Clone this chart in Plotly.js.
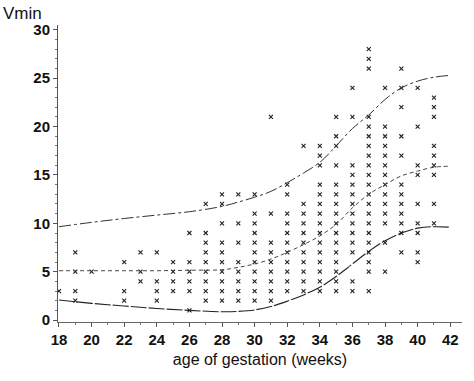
<!DOCTYPE html>
<html>
<head>
<meta charset="utf-8">
<script src="https://cdn.plot.ly/plotly-3.0.1.min.js"></script>
<style>html,body{margin:0;padding:0;background:#fff;}#chart{width:474px;height:381px;}</style>
</head>
<body>
<div id="chart"></div>
<script>
// Observed Vmin values per gestational week
var weeks = [18,19,20,22,23,24,25,26,27,28,29,30,31,32,33,34,35,36,37,38,39,40,41];
var vminByWeek = [
  [3],
  [2,3,5,7],
  [5],
  [2,3,6],
  [4,5,7],
  [2,3,4,7],
  [3,4,5,6],
  [1,3,4,5,6,9],
  [2,3,4,5,6,7,8,9,12],
  [2,3,4,5,6,7,8,10,12,13],
  [2,3,4,5,6,8,10,13],
  [2,3,4,5,6,7,8,9,10,11,13],
  [2,3,4,5,6,7,8,11,21],
  [3,4,5,6,7,8,9,10,11,13,14],
  [3,4,5,6,7,8,9,10,11,12,18],
  [3,4,5,6,7,8,9,10,11,12,13,14,16,17,18],
  [3,4,5,6,7,8,9,10,11,12,13,14,16,18,19,21],
  [3,4,7,8,9,10,11,12,13,14,15,16,21,24],
  [3,5,6,7,8,9,10,11,12,13,14,15,16,17,18,19,20,21,26,27,28],
  [5,8,10,11,12,13,14,15,16,17,18,19,20,24],
  [7,9,10,11,12,13,14,17,19,22,24,26],
  [6,7,9,10,12,15,16,20,24],
  [10,12,15,16,17,18,21,22,23]
];
// Reference curves
var curveWeeks = [18,20,22,24,26,28,29,30,31,32,33,34,35,36,37,38,39,40,41,42];
var upperCurve = [9.65,10.1,10.5,10.85,11.2,11.75,12.2,12.7,13.3,14.2,15.2,16.3,18.0,19.8,21.2,22.8,24.0,24.7,25.1,25.3];
var middleCurve = [5.1,5.1,5.1,5.1,5.15,5.2,5.45,5.8,6.3,7.0,7.8,8.7,9.9,11.6,13.0,14.0,14.9,15.4,15.8,15.9];
var lowerCurve = [2.07,1.73,1.45,1.2,1.0,0.86,0.9,1.05,1.4,1.95,2.6,3.4,4.5,5.8,7.1,8.2,9.0,9.5,9.65,9.6];

var px = [], py = [];
weeks.forEach(function(w, i){ vminByWeek[i].forEach(function(v){ px.push(w); py.push(v); }); });

var font = 'Liberation Sans, Arial, sans-serif';
var traces = [
  {x: px, y: py, mode: 'markers', type: 'scatter',
   marker: {symbol: 'x-thin-open', size: 4, color: '#222', line: {width: 1.1, color: '#222'}}},
  {x: curveWeeks, y: upperCurve, mode: 'lines', line: {shape: 'spline', color: '#333', width: 1, dash: '12px,3px,3px,3px'}},
  {x: curveWeeks, y: middleCurve, mode: 'lines', line: {shape: 'spline', color: '#444', width: 1, dash: '4px,3px'}},
  {x: curveWeeks, y: lowerCurve, mode: 'lines', line: {shape: 'spline', color: '#222', width: 1.1, dash: '16px,2px'}}
];

var layout = {
  width: 474, height: 381,
  margin: {l: 58, r: 12, t: 25, b: 59},
  paper_bgcolor: '#fff', plot_bgcolor: '#fff',
  showlegend: false,
  font: {family: font, color: '#111'},
  xaxis: {
    range: [17.94, 42.72], tickvals: [18,20,22,24,26,28,30,32,34,36,38,40,42],
    ticks: 'outside', ticklen: 4, tickcolor: '#555', showline: true, linecolor: '#666', linewidth: 1,
    showgrid: false, zeroline: false,
    minor: {dtick: 1, tick0: 18, ticks: 'outside', ticklen: 2, tickcolor: '#777'},
    tickfont: {size: 15, family: font, weight: 'bold', color: '#111'},
    title: {text: 'age of gestation (weeks)', font: {size: 16, family: font, color: '#111'}, standoff: 6}
  },
  yaxis: {
    range: [-0.2, 30.5], tickvals: [0,5,10,15,20,25,30],
    ticks: 'outside', ticklen: 4, tickcolor: '#555', showline: true, linecolor: '#555', linewidth: 1,
    showgrid: false, zeroline: false,
    minor: {dtick: 1, tick0: 0, ticks: 'outside', ticklen: 2, tickcolor: '#777'},
    tickfont: {size: 15, family: font, weight: 'bold', color: '#111'}
  },
  annotations: [{
    text: 'Vmin', xref: 'paper', yref: 'paper', x: -0.14, y: 1.04,
    xanchor: 'left', yanchor: 'middle', showarrow: false,
    font: {size: 17, family: font, color: '#111'}
  }]
};
Plotly.newPlot('chart', traces, layout, {displayModeBar: false, staticPlot: true});
</script>
</body>
</html>
